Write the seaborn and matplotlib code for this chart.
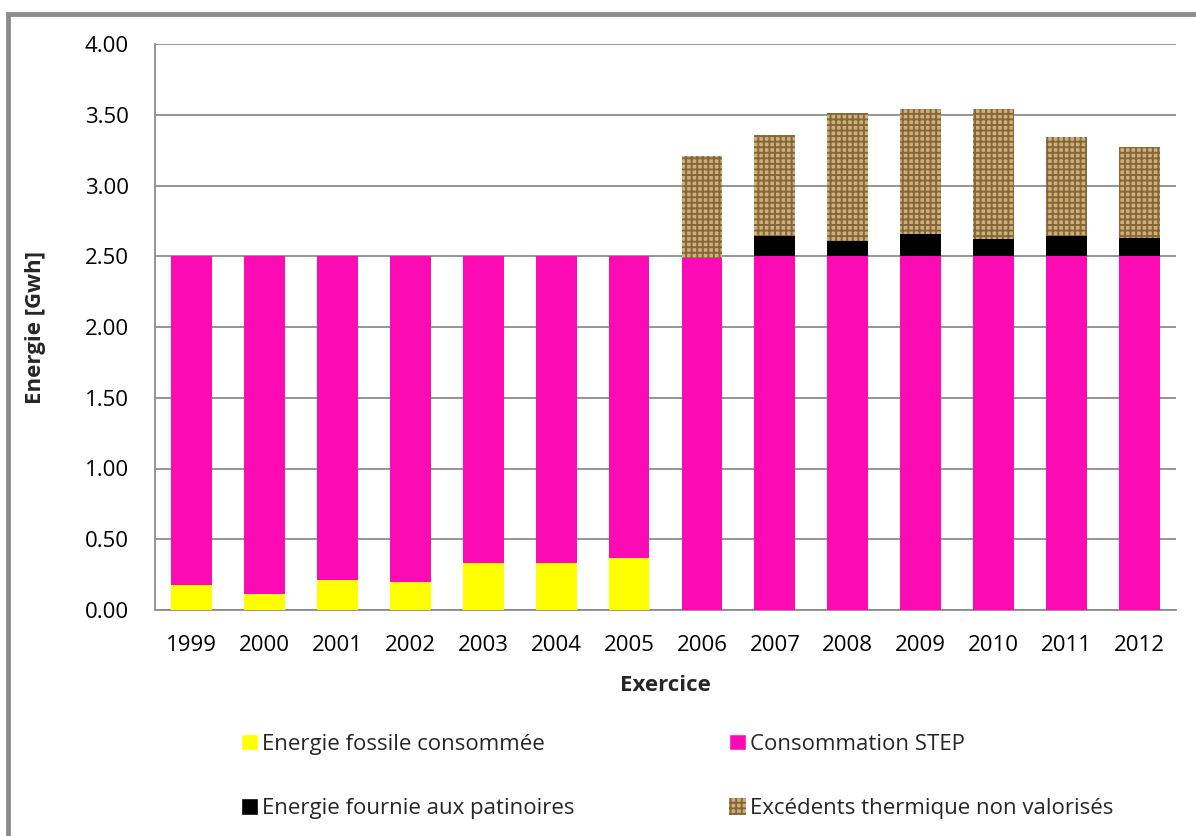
import matplotlib
matplotlib.use("Agg")
import matplotlib.pyplot as plt
import matplotlib.patches as mpatches
import numpy as np
import pandas as pd
import seaborn as sns

# Energy balance per financial year (GWh)
years = ["1999", "2000", "2001", "2002", "2003", "2004", "2005",
         "2006", "2007", "2008", "2009", "2010", "2011", "2012"]
fossile = [0.18, 0.11, 0.21, 0.20, 0.33, 0.33, 0.37,
           0.00, 0.00, 0.00, 0.00, 0.00, 0.00, 0.00]
step = [2.32, 2.39, 2.29, 2.30, 2.17, 2.17, 2.13,
        2.49, 2.50, 2.50, 2.50, 2.50, 2.50, 2.50]
patinoires = [0.00, 0.00, 0.00, 0.00, 0.00, 0.00, 0.00,
              0.00, 0.14, 0.11, 0.16, 0.12, 0.14, 0.13]
excedents = [0.00, 0.00, 0.00, 0.00, 0.00, 0.00, 0.00,
             0.72, 0.72, 0.90, 0.88, 0.92, 0.70, 0.64]

labels = ["Energie fossile consommée", "Consommation STEP",
          "Energie fournie aux patinoires", "Excédents thermique non valorisés"]

sns.set_style("white")
plt.rcParams["font.family"] = ["Open Sans", "DejaVu Sans"]
plt.rcParams["hatch.linewidth"] = 1.4

FS = 16

df = pd.DataFrame({"annee": years, "fossile": fossile, "step": step,
                   "patinoires": patinoires, "excedents": excedents})

fig = plt.figure(figsize=(11.96, 8.36), dpi=100)
ax = fig.add_axes([155 / 1196, 1 - 610 / 836, (1176 - 155) / 1196, (610 - 44) / 836])

# Frame around the whole chart area
frame = mpatches.Rectangle((8 / 1196, -0.05), 1.2, (836 - 14) / 836 + 0.05,
                           transform=fig.transFigure, fill=False,
                           edgecolor="#8c8c8c", linewidth=3.5, zorder=0)
fig.patches.append(frame)

width = 0.56
b1 = np.array(fossile)
b2 = b1 + np.array(step)
b3 = b2 + np.array(patinoires)

tan = "#cfb07a"
brown = "#86673a"

sns.barplot(data=df, x="annee", y="fossile", color="#ffff00", width=width,
            saturation=1, linewidth=0, ax=ax, zorder=3)
sns.barplot(data=df, x="annee", y="step", color="#fc0ab4", width=width,
            saturation=1, linewidth=0, bottom=b1, ax=ax, zorder=3)
sns.barplot(data=df, x="annee", y="patinoires", color="#000000", width=width,
            saturation=1, linewidth=0, bottom=b2, ax=ax, zorder=3)
sns.barplot(data=df, x="annee", y="excedents", color=tan, width=width,
            saturation=1, linewidth=0, bottom=b3, ax=ax, zorder=3,
            hatch="+++", edgecolor=brown)

ax.set_ylim(0, 4.0)
ax.set_xlim(-0.5, len(years) - 0.5)
ticks = np.arange(0, 4.01, 0.5)
ax.set_yticks(ticks)
ax.set_yticklabels([f"{v:.2f}" for v in ticks])
ax.yaxis.grid(True, color="#8c8c8c", linewidth=1.3, zorder=0)
ax.set_axisbelow(True)
ax.tick_params(axis="both", length=0, labelsize=FS, colors="black")
ax.tick_params(axis="x", pad=18)
ax.tick_params(axis="y", pad=19)

for side in ["top", "right"]:
    ax.spines[side].set_visible(False)
for side in ["left", "bottom"]:
    ax.spines[side].set_color("#8c8c8c")
    ax.spines[side].set_linewidth(1.3)

ax.set_xlabel("Exercice", fontsize=FS, fontweight="bold", labelpad=14)
ax.set_ylabel("Energie [Gwh]", fontsize=FS, fontweight="bold", labelpad=28)

handles = [
    mpatches.Patch(facecolor="#ffff00", label=labels[0]),
    mpatches.Patch(facecolor="#000000", label=labels[2]),
    mpatches.Patch(facecolor="#fc0ab4", label=labels[1]),
    mpatches.Patch(facecolor=tan, edgecolor=brown, hatch="+++",
                   linewidth=0, label=labels[3]),
]
fig.legend(handles=handles, ncol=2, loc="upper left",
           bbox_to_anchor=(221 / 1196, 1 - 714 / 836), frameon=False,
           fontsize=FS, handlelength=0.75, handleheight=0.75,
           handletextpad=0.2, labelspacing=1.95, columnspacing=6.95)

fig.savefig("out.png", dpi=100)
